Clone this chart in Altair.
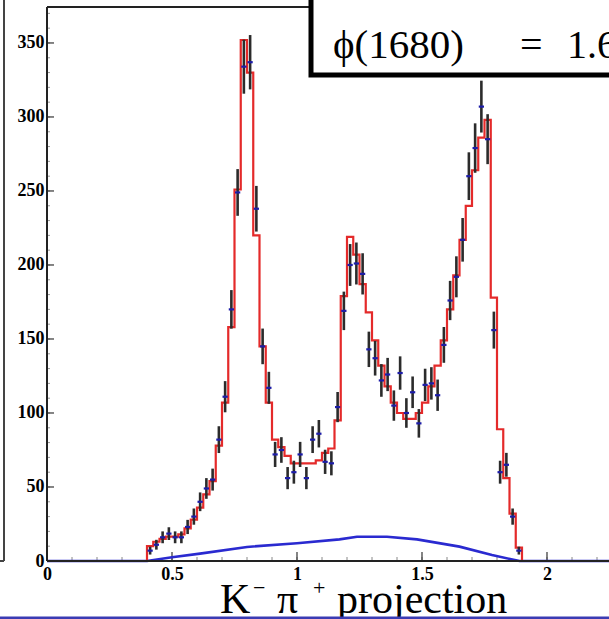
import altair as alt
import numpy as np
import pandas as pd

# Histogram binning of the K- pi+ mass projection (GeV)
BIN_START = 0.4
BIN_WIDTH = 0.025

# Event counts per bin (data points)
counts = [7, 11, 16, 18.5, 16, 16, 23, 30, 40, 49,
          55, 82, 111, 170, 249, 334, 337, 238, 145, 117,
          72, 75, 56, 60, 72, 56, 82, 86, 67, 66,
          104, 169, 200, 201, 194, 143, 137, 122, 126, 105,
          127, 100, 114, 93, 119, 120, 112, 146, 176, 192,
          217, 260, 279, 307, 285, 156, 60, 65, 30, 7]

# Fit result per bin (red histogram)
fit = [10, 13, 15, 16.5, 16.5, 18, 22, 28, 36, 45,
       54, 78, 107, 158, 251, 352, 330, 220, 145, 107,
       82, 77, 71, 66, 66, 66, 66, 68, 73, 76,
       95, 179, 219, 207, 187, 168, 149, 132, 118, 107,
       100, 96, 96, 100, 107, 118, 132, 149, 170, 193,
       217, 240, 264, 286, 298, 178, 89, 56, 32, 9]

# Background component (blue curve)
bkg_x = [0.0, 0.4, 0.5, 0.612, 0.8, 1.0, 1.17, 1.24, 1.36, 1.48, 1.65, 1.78, 1.89, 2.3]
bkg_y = [0, 0, 2.5, 5, 9.5, 12, 14.6, 16.4, 16.4, 14.6, 9.7, 4, 0, 0]

# Axis ticks
x_major = [0, 0.5, 1, 1.5, 2]
x_minor = [round(0.1 * i, 2) for i in range(0, 23)]
y_major = [0, 50, 100, 150, 200, 250, 300, 350]
y_minor = [10 * i for i in range(0, 38)]

X_MAX = 2.248
Y_MAX = 374.3
W, H = 562, 554

n = len(counts)
centers = [BIN_START + BIN_WIDTH * (i + 0.5) for i in range(n)]
pts = pd.DataFrame({
    "x": centers,
    "y": counts,
    "lo": [c - np.sqrt(c) for c in counts],
    "hi": [c + np.sqrt(c) for c in counts],
    "xl": [c - 0.0105 for c in centers],
    "xr": [c + 0.0105 for c in centers],
})

# Step outline for the fit histogram
sx, sy = [BIN_START], [0]
for i, v in enumerate(fit):
    lo = BIN_START + BIN_WIDTH * i
    sx += [lo, lo + BIN_WIDTH]
    sy += [v, v]
sx.append(BIN_START + BIN_WIDTH * n)
sy.append(0)
step = pd.DataFrame({"x": sx, "y": sy, "o": list(range(len(sx)))})

bkg = pd.DataFrame({"x": bkg_x, "y": bkg_y, "o": list(range(len(bkg_x)))})

xs = alt.Scale(domain=[0, X_MAX], nice=False, zero=False)
ys = alt.Scale(domain=[0, Y_MAX], nice=False)

LABEL_FONT = "Liberation Serif"

x_axis = alt.Axis(values=x_major, format="~g", title=None, ticks=False, grid=False,
                  domain=False, labelFont=LABEL_FONT, labelFontWeight="bold",
                  labelFontSize=18, labelColor="black", labelPadding=4,
                  labelFlush=False, labelBound=False)
y_axis = alt.Axis(values=y_major, title=None, ticks=False, grid=False, domain=False,
                  labelFont=LABEL_FONT, labelFontWeight="bold", labelFontSize=18,
                  labelColor="black", labelPadding=3, labelFlush=False, labelBound=False)

base_axes = alt.Chart(pd.DataFrame({"x": [0], "y": [0]})).mark_point(opacity=0).encode(
    x=alt.X("x:Q", scale=xs, axis=x_axis),
    y=alt.Y("y:Q", scale=ys, axis=y_axis),
)

one = pd.DataFrame({"a": [0]})

# Plot frame: left, bottom and top edges
frame_left = alt.Chart(one).mark_rule(color="#222", strokeWidth=2).encode(
    x=alt.value(0), y=alt.value(0), y2=alt.value(H))
frame_bottom = alt.Chart(one).mark_rule(color="#222", strokeWidth=2).encode(
    x=alt.value(0), x2=alt.value(W + 5), y=alt.value(H))
frame_top = alt.Chart(one).mark_rule(color="#222", strokeWidth=2).encode(
    x=alt.value(0), x2=alt.value(W + 5), y=alt.value(0))

# Inward tick marks
xtick_major = alt.Chart(pd.DataFrame({"x": x_major})).mark_rule(color="#333", strokeWidth=1.2).encode(
    x=alt.X("x:Q", scale=xs), y=alt.value(H), y2=alt.value(H - 9))
xtick_minor = alt.Chart(pd.DataFrame({"x": x_minor})).mark_rule(color="#888", strokeWidth=1).encode(
    x=alt.X("x:Q", scale=xs), y=alt.value(H), y2=alt.value(H - 4))
ytick_major = alt.Chart(pd.DataFrame({"y": y_major})).mark_rule(color="#333", strokeWidth=1.2).encode(
    y=alt.Y("y:Q", scale=ys), x=alt.value(0), x2=alt.value(7))
ytick_minor = alt.Chart(pd.DataFrame({"y": y_minor})).mark_rule(color="#999", strokeWidth=1).encode(
    y=alt.Y("y:Q", scale=ys), x=alt.value(0), x2=alt.value(3))

zero_line = alt.Chart(pd.DataFrame({"x": [0, 2.27], "y": [0, 0]})).mark_line(
    color="#2a2ad0", strokeWidth=2, strokeDash=[6, 1.5]).encode(
    x=alt.X("x:Q", scale=xs), y=alt.Y("y:Q", scale=ys))

fit_line = alt.Chart(step).mark_line(color="#e42a2a", strokeWidth=2.2).encode(
    x=alt.X("x:Q", scale=xs), y=alt.Y("y:Q", scale=ys), order="o:Q")

bkg_line = alt.Chart(bkg).mark_line(color="#2a2ad0", strokeWidth=2.6).encode(
    x=alt.X("x:Q", scale=xs), y=alt.Y("y:Q", scale=ys), order="o:Q")

err = alt.Chart(pts).mark_rule(color="#2b2b2b", strokeWidth=2.6).encode(
    x=alt.X("x:Q", scale=xs), y=alt.Y("lo:Q", scale=ys), y2="hi:Q")

marker = alt.Chart(pts).mark_rule(color="#1c1ca8", strokeWidth=2.2).encode(
    x=alt.X("xl:Q", scale=xs), x2="xr:Q", y=alt.Y("y:Q", scale=ys))

# Frame of the neighbouring panel on the left
left_frame = alt.Chart(one).mark_rule(color="#444", strokeWidth=2).encode(
    x=alt.value(-43), y=alt.value(-10), y2=alt.value(H))
left_frame_foot = alt.Chart(one).mark_rule(color="#444", strokeWidth=2).encode(
    x=alt.value(-50), x2=alt.value(-43), y=alt.value(H))

# Parameter box
box = alt.Chart(one).mark_rect(fill="white", stroke="black", strokeWidth=5).encode(
    x=alt.value(264), x2=alt.value(700), y=alt.value(-40), y2=alt.value(68))


def label(text, x, y, size):
    return alt.Chart(one).mark_text(text=text, font=LABEL_FONT, fontSize=size,
                                    align="left", baseline="alphabetic", color="black").encode(
        x=alt.value(x), y=alt.value(y))


box_text = [
    label("ϕ(1680)", 286, 51, 41),
    label("=", 473, 51, 40),
    label("1.6", 520, 51, 40),
]

# Projection caption
caption = [
    label("K", 173, 606, 42),
    label("−", 206, 588, 22),
    label("π", 230, 606, 42),
    label("+", 266, 588, 22),
    label("projection", 290, 606, 42),
]

bottom_bar = alt.Chart(one).mark_rule(color="#3b3bb3", strokeWidth=3).encode(
    x=alt.value(-47), x2=alt.value(W + 5), y=alt.value(H + 57))

chart = alt.layer(
    base_axes, xtick_minor, ytick_minor, xtick_major, ytick_major,
    zero_line, bkg_line, fit_line, err, marker,
    frame_left, frame_bottom, frame_top,
    left_frame, left_frame_foot, box, *box_text,
    *caption, bottom_bar,
).properties(
    width=W, height=H,
    padding={"left": 47, "top": 7, "right": 0, "bottom": 58},
    autosize=alt.AutoSizeParams(type="none"),
    background="white",
).configure_view(stroke="transparent", strokeWidth=0)

chart.save("out.html", embed_options={"renderer": "svg", "actions": False})
